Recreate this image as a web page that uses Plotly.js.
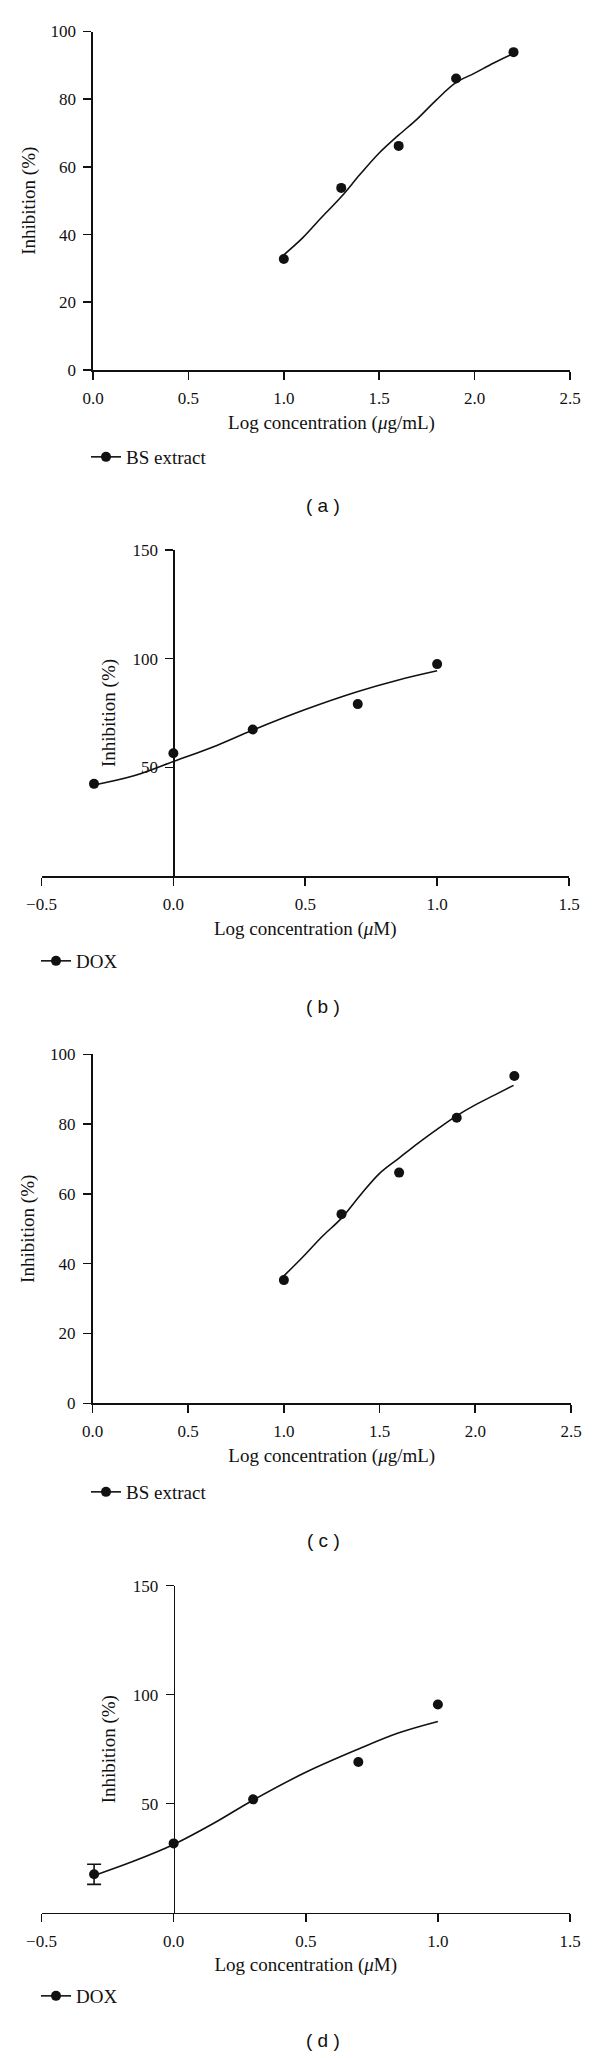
<!DOCTYPE html>
<html>
<head>
<meta charset="utf-8">
<script src="https://cdn.plot.ly/plotly-3.0.1.min.js"></script>
<style>
  html, body { margin: 0; padding: 0; background: #fff; }
  #chart { width: 600px; height: 2058px; }
</style>
</head>
<body>
<div id="chart"></div>
<script>
// ---------------- data ----------------
// Panel (a): BS extract
const xA = [1.0, 1.301, 1.602, 1.903, 2.204];
const yA = [32.8, 53.8, 66.2, 86.1, 93.9];
const fitXA = [1.0, 1.1, 1.2, 1.3, 1.4, 1.5, 1.6, 1.7, 1.8, 1.9, 2.0, 2.1, 2.2];
const fitYA = [34.0, 39.1, 45.2, 51.1, 57.8, 64.1, 69.3, 74.2, 79.8, 84.8, 87.7, 90.7, 93.4];

// Panel (b): DOX
const xB = [-0.301, 0.0, 0.301, 0.699, 1.0];
const yB = [42.4, 56.5, 67.4, 79.1, 97.5];
const fitXB = [-0.3, -0.15, 0.0, 0.15, 0.3, 0.5, 0.7, 0.85, 1.0];
const fitYB = [41.9, 46.1, 52.7, 59.4, 67.1, 76.6, 84.9, 90.1, 94.4];

// Panel (c): BS extract
const xC = [1.0, 1.301, 1.602, 1.903, 2.204];
const yC = [35.3, 54.2, 66.1, 81.8, 93.8];
const fitXC = [1.0, 1.1, 1.2, 1.3, 1.4, 1.5, 1.6, 1.7, 1.8, 1.9, 2.0, 2.1, 2.2];
const fitYC = [36.5, 42.0, 47.8, 53.0, 59.7, 65.9, 70.2, 74.5, 78.5, 82.3, 85.5, 88.3, 91.1];

// Panel (d): DOX  (only the first point has a visible error bar)
const xD = [-0.301, 0.0, 0.301, 0.699, 1.0];
const yD = [17.6, 31.8, 52.0, 69.1, 95.5];
const errD = [4.6, NaN, NaN, NaN, NaN];
const fitXD = [-0.3, -0.15, 0.0, 0.15, 0.3, 0.5, 0.7, 0.85, 1.0];
const fitYD = [17.1, 23.7, 31.3, 40.9, 51.6, 64.4, 75.1, 82.4, 87.7];

// Labels
const seriesNames = ['BS extract', 'DOX', 'BS extract', 'DOX'];
const captions = ['( a )', '( b )', '( c )', '( d )'];
const xTitles = ['Log concentration (<i>μ</i>g/mL)', 'Log concentration (<i>μ</i>M)',
                 'Log concentration (<i>μ</i>g/mL)', 'Log concentration (<i>μ</i>M)'];
const yTitle = 'Inhibition (%)';
const ticksExtractX = [0.0, 0.5, 1.0, 1.5, 2.0, 2.5];
const ticksExtractXText = ['0.0', '0.5', '1.0', '1.5', '2.0', '2.5'];
const ticksExtractY = [0, 20, 40, 60, 80, 100];
const ticksDoxX = [-0.5, 0.0, 0.5, 1.0, 1.5];
const ticksDoxXText = ['\u22120.5', '0.0', '0.5', '1.0', '1.5'];
const ticksDoxY = [50, 100, 150];

// ---------------- layout geometry (pixels) ----------------
const W = 600, H = 2058;
const px = v => v / W;
const py = v => 1 - v / H;
const SERIF = 'Liberation Serif, Times New Roman, serif';
const SANS = 'Liberation Sans, Arial, sans-serif';

const panels = [
  { xr: [0, 2.5], yr: [0, 100], xp: [93, 570], yp: [370, 31.5], free: false, legX: 86,
    xt: ticksExtractX, xtt: ticksExtractXText, yt: ticksExtractY, legY: 457, capY: 505 },
  { xr: [-0.5, 1.5], yr: [0, 150], xp: [41.5, 569], yp: [876, 550], free: true, legX: 36,
    xt: ticksDoxX, xtt: ticksDoxXText, yt: ticksDoxY, legY: 961, capY: 1007 },
  { xr: [0, 2.5], yr: [0, 100], xp: [92.5, 571], yp: [1403.3, 1054.3], free: false, legX: 86,
    xt: ticksExtractX, xtt: ticksExtractXText, yt: ticksExtractY, legY: 1492, capY: 1540 },
  { xr: [-0.5, 1.5], yr: [0, 150], xp: [41.5, 570], yp: [1912.7, 1585.7], free: true, legX: 36,
    xt: ticksDoxX, xtt: ticksDoxXText, yt: ticksDoxY, legY: 1996, capY: 2040 }
];

const dataSets = [
  { x: xA, y: yA, fx: fitXA, fy: fitYA, err: null },
  { x: xB, y: yB, fx: fitXB, fy: fitYB, err: null },
  { x: xC, y: yC, fx: fitXC, fy: fitYC, err: null },
  { x: xD, y: yD, fx: fitXD, fy: fitYD, err: errD }
];

const traces = [];
const layout = {
  width: W, height: H,
  margin: { l: 0, r: 0, t: 0, b: 0 },
  paper_bgcolor: '#fff', plot_bgcolor: 'rgba(0,0,0,0)',
  font: { family: SERIF, size: 17, color: '#111' },
  showlegend: true,
  annotations: []
};

panels.forEach((p, i) => {
  const n = i === 0 ? '' : String(i + 1);
  const xa = 'x' + n, ya = 'y' + n;
  const d = dataSets[i];
  const legName = i === 0 ? 'legend' : 'legend' + n;

  traces.push({
    type: 'scatter', mode: 'lines', x: d.fx, y: d.fy, xaxis: xa, yaxis: ya,
    line: { color: '#111', width: 1.6, shape: 'spline', smoothing: 1 },
    showlegend: false, hoverinfo: 'skip', cliponaxis: false
  });
  const pts = {
    type: 'scatter', mode: 'markers', x: d.x, y: d.y, xaxis: xa, yaxis: ya,
    marker: { color: '#111', size: 10 },
    showlegend: false, cliponaxis: false
  };
  if (d.err) {
    pts.error_y = { type: 'data', array: d.err, visible: true, color: '#111', thickness: 1.6, width: 7 };
  }
  traces.push(pts);
  // legend entry (line + marker symbol)
  traces.push({
    type: 'scatter', mode: 'lines+markers', x: [null], y: [null], xaxis: xa, yaxis: ya,
    name: seriesNames[i], legend: legName,
    line: { color: '#111', width: 1.6 }, marker: { color: '#111', size: 10 }
  });

  const xPos0 = p.xp[0], xPos1 = p.xp[1];
  const xaxis = {
    domain: [px(xPos0), px(xPos1)], range: p.xr, anchor: ya,
    showline: true, linecolor: '#111', linewidth: 1.6,
    ticks: 'outside', ticklen: 8, tickwidth: 1.6, tickcolor: '#111',
    tickvals: p.xt, ticktext: p.xtt, tickfont: { family: SERIF, size: 17, color: '#111' },
    showgrid: false, zeroline: false, ticklabelstandoff: 4,
    title: { text: xTitles[i], font: { family: SERIF, size: 19, color: '#111' }, standoff: 8 },
    fixedrange: true
  };
  const yaxis = {
    domain: [py(p.yp[0]), py(p.yp[1])], range: p.yr,
    showline: true, linecolor: '#111', linewidth: 1.6,
    ticks: 'outside', ticklen: 8, tickwidth: 1.6, tickcolor: '#111',
    tickvals: p.yt, tickfont: { family: SERIF, size: 17, color: '#111' },
    showgrid: false, zeroline: false, ticklabelstandoff: 4,
    title: { text: yTitle, font: { family: SERIF, size: 19, color: '#111' }, standoff: 10 },
    fixedrange: true
  };
  if (p.free) {
    const frac = (0 - p.xr[0]) / (p.xr[1] - p.xr[0]);
    yaxis.anchor = 'free';
    yaxis.position = px(xPos0 + frac * (xPos1 - xPos0));
  } else {
    yaxis.anchor = xa;
  }
  layout['xaxis' + n] = xaxis;
  layout['yaxis' + n] = yaxis;

  layout[legName] = {
    x: px(p.legX), y: py(p.legY), xanchor: 'left', yanchor: 'middle',
    bgcolor: 'rgba(0,0,0,0)', borderwidth: 0,
    font: { family: SERIF, size: 19, color: '#111' }
  };

  layout.annotations.push({
    xref: 'paper', yref: 'paper', x: px(323), y: py(p.capY),
    xanchor: 'center', yanchor: 'middle', showarrow: false,
    text: captions[i], font: { family: SANS, size: 19, color: '#111' }
  });
});

Plotly.newPlot('chart', traces, layout, { staticPlot: true, displayModeBar: false });
</script>
</body>
</html>
